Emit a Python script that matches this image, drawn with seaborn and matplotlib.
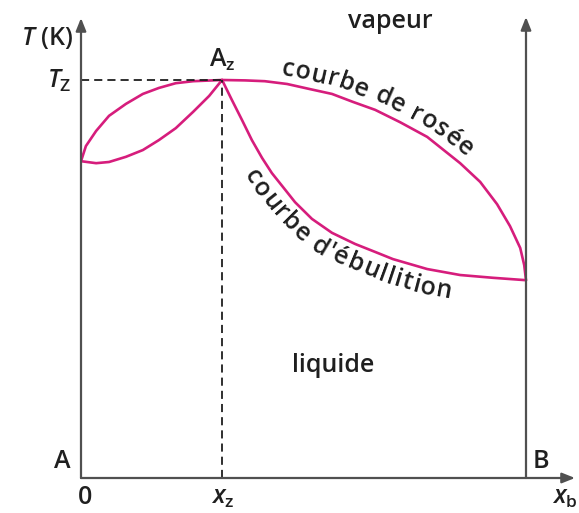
import numpy as np
import pandas as pd
import matplotlib
matplotlib.use("Agg")
import matplotlib.pyplot as plt
from matplotlib.font_manager import FontProperties
import seaborn as sns

# Liquid-vapour diagram of a binary mixture with a positive azeotrope.
# Composition x (0 = pure A, 1 = pure B), temperature in relative units (T_Z = 100).
x_rosee_A = [0.0, 0.011, 0.034, 0.063, 0.101, 0.139, 0.175, 0.213, 0.252, 0.317]
T_rosee_A = [79.6, 83.4, 87.2, 91.0, 94.0, 96.5, 98.0, 99.2, 99.7, 100.0]
x_ebul_A = [0.0, 0.034, 0.063, 0.101, 0.139, 0.175, 0.213, 0.252, 0.288, 0.317]
T_ebul_A = [79.6, 79.1, 79.4, 80.7, 82.4, 84.9, 87.9, 92.0, 96.0, 100.0]
x_rosee_B = [0.317, 0.369, 0.413, 0.463, 0.515, 0.564, 0.611, 0.661, 0.717,
             0.778, 0.852, 0.897, 0.935, 0.964, 0.987, 0.996, 1.0]
T_rosee_B = [100.0, 99.9, 99.7, 99.0, 97.7, 96.5, 94.5, 92.5, 89.4,
             85.7, 79.1, 74.4, 68.8, 63.3, 57.8, 53.5, 49.7]
x_ebul_B = [0.317, 0.339, 0.362, 0.384, 0.407, 0.429, 0.454, 0.481, 0.519,
            0.564, 0.616, 0.661, 0.701, 0.778, 0.852, 0.926, 1.0]
T_ebul_B = [100.0, 95.0, 89.9, 84.9, 80.4, 76.6, 73.1, 69.3, 65.1,
            61.6, 58.8, 56.8, 55.0, 52.5, 51.0, 50.3, 49.7]

x_z = 0.317
T_z = 100.0

branches = {
    "rosee_A": (x_rosee_A, T_rosee_A),
    "ebul_A": (x_ebul_A, T_ebul_A),
    "rosee_B": (x_rosee_B, T_rosee_B),
    "ebul_B": (x_ebul_B, T_ebul_B),
}
df = pd.concat(
    [pd.DataFrame({"x": xs, "T": ts, "branche": name}) for name, (xs, ts) in branches.items()],
    ignore_index=True,
)

sns.set_theme(style="white")
FONT = "Open Sans"
WEIGHT = "semibold"
plt.rcParams["font.family"] = [FONT, "DejaVu Sans"]
plt.rcParams["font.weight"] = WEIGHT
plt.rcParams["mathtext.fontset"] = "custom"
plt.rcParams["mathtext.rm"] = FONT + ":semibold"
plt.rcParams["mathtext.it"] = FONT + ":italic:semibold"

W, H, DPI = 579, 513, 100
fig = plt.figure(figsize=(W / DPI, H / DPI), dpi=DPI)
fig.patch.set_facecolor("white")

# axes frame: x=0 at px 81, x=1 at px 526; T=0 at px 478, T_Z at px 80
x_px0, x_px1 = 81, 526
y_px0, y_px_tz = 478, 80
sx = x_px1 - x_px0
sy = (y_px0 - y_px_tz) / T_z
xmax = (575 - x_px0) / sx
tmax = (y_px0 - 18) / sy
ax = fig.add_axes([x_px0 / W, (H - y_px0) / H, xmax * sx / W, tmax * sy / H])
ax.set_xlim(0, xmax)
ax.set_ylim(0, tmax)
ax.axis("off")

PINK = "#d61d7c"
INK = "#1f1f1f"
AXC = "#505050"

sns.lineplot(data=df, x="x", y="T", units="branche", estimator=None, sort=False,
             color=PINK, lw=1.9, ax=ax, legend=False, solid_joinstyle="round",
             solid_capstyle="round")

# axes with arrowheads
arrow = dict(arrowstyle="-|>,head_length=0.55,head_width=0.22", color=AXC, lw=1.6,
             shrinkA=0, shrinkB=0, mutation_scale=14)
ax.annotate("", xy=(0, tmax), xytext=(0, 0), arrowprops=arrow, annotation_clip=False)
ax.annotate("", xy=(1.0, tmax + 1 / sy), xytext=(1.0, 0), arrowprops=arrow,
            annotation_clip=False)
ax.annotate("", xy=(xmax, 0), xytext=(0, 0), arrowprops=arrow, annotation_clip=False)

# azeotrope guides
dash = (0, (4.5, 2.8))
ax.plot([0, x_z], [T_z, T_z], color=INK, lw=1.3, ls=dash)
ax.plot([x_z, x_z], [0, T_z], color=INK, lw=1.3, ls=dash)

FS = 18


def px(xp, yp):
    """Pixel position (from the top-left corner) to data coordinates."""
    return ax.transData.inverted().transform((xp, H - yp))


def put(xp, yp, s, **kw):
    xd, yd = px(xp, yp)
    kw.setdefault("fontsize", FS)
    kw.setdefault("color", INK)
    ax.text(xd, yd, s, clip_on=False, **kw)


put(73, 38, r"$\mathit{T}$ (K)", ha="right", va="center")
put(71, 81, r"$\mathit{T}_\mathrm{Z}$", ha="right", va="center")
put(222, 60, r"A$_\mathrm{z}$", ha="center", va="center")
put(390, 22, "vapeur", ha="center", va="center")
put(333, 365, "liquide", ha="center", va="center")
put(62, 462, "A", ha="center", va="center")
put(541, 462, "B", ha="center", va="center")
put(85, 497, "0", ha="center", va="center")
put(223, 497, r"$\mathit{x}_\mathrm{z}$", ha="center", va="center")
put(578, 497, r"$\mathit{x}_\mathrm{b}$", ha="right", va="center")


def text_along(xs, ts, label, start_px, offset, side, size=FS, tracking=1.0):
    """Lay the characters of a label along a curve, offset from it."""
    fig.canvas.draw()
    rend = fig.canvas.get_renderer()
    pts = ax.transData.transform(np.column_stack([xs, ts]))
    seg = np.hypot(*np.diff(pts, axis=0).T)
    s = np.concatenate([[0], np.cumsum(seg)])
    ss = np.linspace(0, s[-1], 1200)
    cx = np.interp(ss, s, pts[:, 0])
    cy = np.interp(ss, s, pts[:, 1])
    ang = np.unwrap(np.arctan2(np.gradient(cy), np.gradient(cx)))
    k = 81
    ang = np.convolve(np.pad(ang, (k // 2, k // 2), mode="edge"), np.ones(k) / k, mode="valid")
    nx, ny = -np.sin(ang) * side, np.cos(ang) * side
    ox, oy = cx + nx * offset, cy + ny * offset
    so = np.concatenate([[0], np.cumsum(np.hypot(np.diff(ox), np.diff(oy)))])
    pos = so[np.argmax(ox >= start_px)]
    fp = FontProperties(family=FONT, size=size, weight=WEIGHT)
    w_sp = (rend.get_text_width_height_descent("n n", fp, ismath=False)[0]
            - rend.get_text_width_height_descent("nn", fp, ismath=False)[0])
    inv = ax.transData.inverted()
    for ch in label:
        w = w_sp if ch == " " else rend.get_text_width_height_descent(ch, fp, ismath=False)[0]
        w += tracking
        c = pos + w / 2
        if ch != " ":
            px_ = np.interp(c, so, ox)
            py_ = np.interp(c, so, oy)
            a = np.degrees(np.interp(c, so, ang))
            xd, yd = inv.transform((px_, py_))
            ax.text(xd, yd, ch, fontproperties=fp, color=INK, rotation=a,
                    rotation_mode="anchor", ha="center", va="baseline", clip_on=False)
        pos += w


text_along(x_rosee_B, T_rosee_B, "courbe de rosée", 280, 8, +1, tracking=0.8)
text_along(x_ebul_B, T_ebul_B, "courbe d'ébullition", 243, 25, -1, tracking=1.3)

fig.savefig("out.png", dpi=DPI, facecolor="white")
